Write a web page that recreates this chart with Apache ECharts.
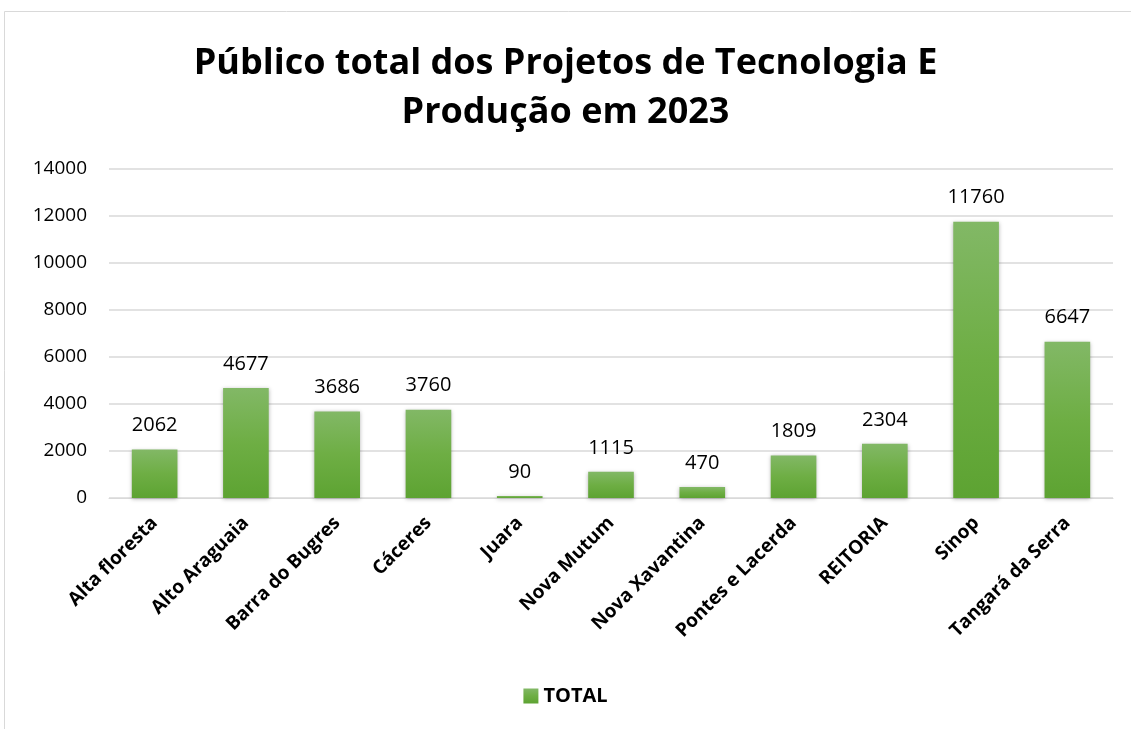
<!DOCTYPE html>
<html>
<head>
<meta charset="utf-8">
<script src="https://cdn.jsdelivr.net/npm/echarts@6/dist/echarts.min.js"></script>
<style>
  html, body { margin: 0; padding: 0; background: #fff; }
  #chart { width: 1131px; height: 729px; }
</style>
</head>
<body>
<div id="chart"></div>
<script>
// dados
const campi = ['Alta floresta', 'Alto Araguaia', 'Barra do Bugres', 'Cáceres', 'Juara',
  'Nova Mutum', 'Nova Xavantina', 'Pontes e Lacerda', 'REITORIA', 'Sinop', 'Tangará da Serra'];
const totais = [2062, 4677, 3686, 3760, 90, 1115, 470, 1809, 2304, 11760, 6647];

const fonte = 'Open Sans, Liberation Sans, sans-serif';

const chart = echarts.init(document.getElementById('chart'));
chart.setOption({
  animation: false,
  backgroundColor: '#fff',
  title: {
    text: 'Público total dos Projetos de Tecnologia E\nProdução em 2023',
    left: 'center',
    top: 34,
    textStyle: {
      fontFamily: fonte,
      fontSize: 36,
      fontWeight: 'bold',
      color: '#000',
      lineHeight: 49
    }
  },
  graphic: [{
    type: 'rect',
    shape: { x: 4.5, y: 11.5, width: 1140, height: 730 },
    style: { fill: 'none', stroke: '#d9d9d9', lineWidth: 1 },
    silent: true
  }],
  legend: {
    bottom: 18,
    left: 'center',
    itemWidth: 15,
    itemHeight: 15,
    itemGap: 8,
    icon: 'rect',
    textStyle: { fontFamily: fonte, fontSize: 20, fontWeight: 'bold', color: '#000' }
  },
  grid: { left: 109, right: 18, top: 169, bottom: 231 },
  xAxis: {
    type: 'category',
    data: campi,
    axisLine: { show: true, lineStyle: { color: '#d9d9d9', width: 1 } },
    axisTick: { show: false },
    axisLabel: {
      rotate: 45,
      interval: 0,
      margin: 22,
      fontFamily: fonte,
      fontSize: 19,
      fontWeight: 'bold',
      color: '#000'
    }
  },
  yAxis: {
    type: 'value',
    min: 0,
    max: 14000,
    interval: 2000,
    axisLine: { show: false },
    axisTick: { show: false },
    splitLine: { lineStyle: { color: '#d9d9d9', width: 1.5 } },
    axisLabel: {
      fontFamily: fonte,
      fontSize: 19,
      color: '#000',
      margin: 22,
      formatter: v => String(v)
    }
  },
  series: [{
    name: 'TOTAL',
    type: 'bar',
    data: totais,
    barWidth: '50%',
    itemStyle: {
      color: new echarts.graphic.LinearGradient(0, 0, 0, 1, [
        { offset: 0, color: '#82b866' },
        { offset: 0.5, color: '#6eae44' },
        { offset: 1, color: '#5da332' }
      ]),
      shadowColor: 'rgba(0,0,0,0.3)',
      shadowBlur: 4,
      shadowOffsetY: 1
    },
    label: {
      show: true,
      position: 'top',
      distance: 14,
      fontFamily: fonte,
      fontSize: 20,
      color: '#000'
    }
  }]
});
</script>
</body>
</html>
